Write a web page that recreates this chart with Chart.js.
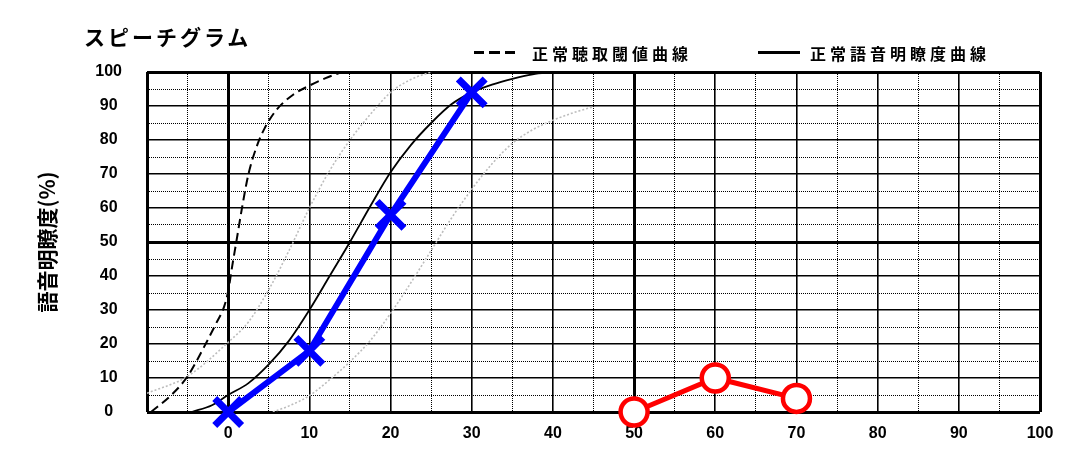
<!DOCTYPE html>
<html lang="ja">
<head>
<meta charset="UTF-8">
<title>スピーチグラム</title>
<script src="https://cdn.jsdelivr.net/npm/chart.js"></script>
<style>
    body { margin: 0; background: #fff; }
    .wrap { position: relative; width: 1068px; height: 462px; }
    .title { position: absolute; left: 84px; top: 24px; font: bold 21px "Noto Sans CJK JP"; line-height: 24px; letter-spacing: 3px; color: #000; }
    .legend-line { position: absolute; top: 51px; height: 3px; }
    .legend-line.dashed { left: 474px; width: 41px; background: repeating-linear-gradient(to right, #000 0 10px, transparent 10px 15.5px); }
    .legend-line.solid { left: 758px; width: 42px; background: #000; }
    .legend-text { position: absolute; top: 43px; font: bold 16px "Noto Sans CJK JP"; line-height: 20px; letter-spacing: 4px; color: #000; white-space: nowrap; }
</style>
</head>
<body>
<div class="wrap">
    <canvas id="speechChart"></canvas>
    <div class="title">スピーチグラム</div>
    <div class="legend-line dashed"></div>
    <div class="legend-text" style="left:532px">正常聴取閾値曲線</div>
    <div class="legend-line solid"></div>
    <div class="legend-text" style="left:810px">正常語音明瞭度曲線</div>
</div>

<script>
// 測定値 (dB / %)
const blueX = [0, 10, 20, 30];
const blueY = [0, 18, 58, 94];
const redX = [50, 60, 70];
const redY = [0, 10, 4];

// 正常聴取閾値曲線
const threshX = [-9.5, -7, -5, -3, -1.5, -0.5, 0, 0.5, 1, 1.7, 2.5, 3.5, 4.5, 6, 8, 10, 12, 14];
const threshY = [0, 5, 10.5, 19, 26, 31, 35.5, 43, 50, 60, 70, 78, 83.5, 89, 93.3, 96, 98.2, 100];

// 正常語音明瞭度曲線
const speechX = [-4.5, -2, 0, 2.5, 5, 7.5, 10, 12.5, 15, 17.5, 20, 22.5, 25, 27.5, 30, 32.5, 35, 37.5, 40];
const speechY = [0, 2, 5, 8.5, 14, 21, 30, 40, 50, 60.5, 70.5, 78.5, 85, 90.5, 94, 96.3, 98, 99.3, 100];

// 灰色の点線 (左右)
const grayLeftX = [-10, -5, 0, 2.5, 5, 7.5, 10, 12.5, 15, 17.5, 20, 22.5, 25];
const grayLeftY = [5.5, 10.5, 20.5, 26.5, 36, 47.5, 60, 71, 80, 87.5, 94, 97.8, 100];
const grayRightX = [5.5, 7.5, 10, 12.5, 15, 17.5, 20, 22.5, 25, 27.5, 30, 32.5, 35, 37.5, 40, 42.5, 45];
const grayRightY = [0, 1.8, 4.8, 9.5, 14.8, 21, 29, 38, 47.5, 57, 65.5, 73, 79, 83, 85.8, 88, 89.8];

// 目盛り
const xMin = -10, xMax = 100, yMin = 0, yMax = 100;

function toPoints(xs, ys) {
    return xs.map((x, i) => ({ x: x, y: ys[i] }));
}

const tickFont = { family: "Liberation Sans", size: 16, weight: "bold" };

function majorWidth(edges) {
    return ctx => (ctx.tick && edges.includes(ctx.tick.value)) ? 3 : 1.6;
}
function minorColor(ctx) {
    return (ctx.tick && ctx.tick.value % 10 === 0) ? "rgba(0,0,0,0)" : "#000";
}

function curve(label, xs, ys, color, width, dash) {
    return {
        label: label,
        data: toPoints(xs, ys),
        borderColor: color,
        borderWidth: width,
        borderDash: dash,
        pointRadius: 0,
        cubicInterpolationMode: "monotone"
    };
}

function createChart() {
    new Chart(document.getElementById("speechChart"), {
        type: "line",
        data: {
            datasets: [
                {
                    label: "blue",
                    data: toPoints(blueX, blueY),
                    borderColor: "#0000ff",
                    backgroundColor: "#0000ff",
                    borderWidth: 6,
                    pointStyle: "crossRot",
                    pointRadius: 19,
                    pointBorderWidth: 7,
                    tension: 0,
                    clip: false
                },
                {
                    label: "red",
                    data: toPoints(redX, redY),
                    borderColor: "#ff0000",
                    pointBackgroundColor: "#fff",
                    borderWidth: 5,
                    pointStyle: "circle",
                    pointRadius: 13.5,
                    pointBorderWidth: 4.5,
                    tension: 0,
                    clip: false
                },
                curve("正常聴取閾値曲線", threshX, threshY, "#000", 2, [9, 5]),
                curve("正常語音明瞭度曲線", speechX, speechY, "#000", 1.8, []),
                curve("gray1", grayLeftX, grayLeftY, "#bdbdbd", 1.6, [2, 2]),
                curve("gray2", grayRightX, grayRightY, "#bdbdbd", 1.6, [2, 2])
            ]
        },
        options: {
            responsive: true,
            maintainAspectRatio: false,
            animation: false,
            layout: { padding: { top: 72, right: 28, bottom: 0, left: 0 } },
            plugins: {
                legend: { display: false },
                tooltip: { enabled: false }
            },
            scales: {
                x: {
                    type: "linear",
                    position: "bottom",
                    min: xMin, max: xMax,
                    ticks: {
                        stepSize: 10, autoSkip: false, maxRotation: 0, padding: 12,
                        font: tickFont, color: "#000",
                        callback: v => v === xMin ? "" : v
                    },
                    grid: { color: "#000", lineWidth: majorWidth([-10, 0, 50, 100]), drawTicks: false },
                    border: { display: false },
                    afterFit: scale => { scale.height = 50; }
                },
                xMinor: {
                    type: "linear",
                    position: "bottom",
                    min: xMin, max: xMax,
                    ticks: { stepSize: 5, maxTicksLimit: 40, autoSkip: false, display: false },
                    grid: { color: minorColor, lineWidth: 1, drawTicks: false },
                    border: { display: false, dash: [1, 1] },
                    afterFit: scale => { scale.height = 0; }
                },
                y: {
                    min: yMin, max: yMax,
                    position: "left",
                    ticks: {
                        stepSize: 10, autoSkip: false, padding: 25, crossAlign: "center",
                        font: tickFont, color: "#000"
                    },
                    grid: { color: "#000", lineWidth: majorWidth([0, 50, 100]), drawTicks: false },
                    border: { display: false },
                    title: {
                        display: true,
                        text: "語音明瞭度(%)",
                        color: "#000",
                        font: { family: "Noto Sans CJK JP", size: 21, weight: "bold" },
                        padding: { top: 34, bottom: 0 }
                    },
                    afterFit: scale => { scale.width = 147; }
                },
                yMinor: {
                    min: yMin, max: yMax,
                    position: "left",
                    ticks: { stepSize: 5, maxTicksLimit: 40, autoSkip: false, display: false },
                    grid: { color: minorColor, lineWidth: 1, drawTicks: false },
                    border: { display: false, dash: [1, 1] },
                    afterFit: scale => { scale.width = 0; }
                }
            }
        }
    });
}

document.addEventListener("DOMContentLoaded", function () {
    createChart();
});
</script>
</body>
</html>
